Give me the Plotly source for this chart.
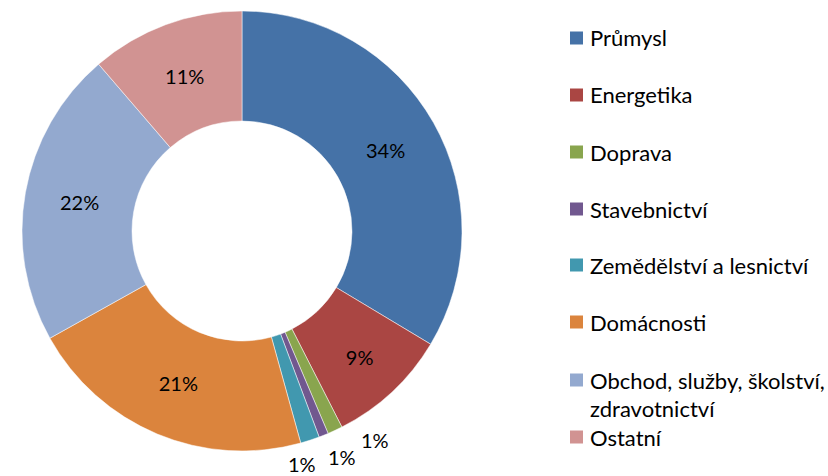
import plotly.graph_objects as go

# data
labels = ['Průmysl', 'Energetika', 'Doprava', 'Stavebnictví',
          'Zemědělství a lesnictví', 'Domácnosti',
          'Obchod, služby, školství, zdravotnictví', 'Ostatní']
shares = [33.6, 8.9, 1.1, 0.7, 1.4, 21.2, 21.8, 11.3]
legend_lines = [['Průmysl'], ['Energetika'], ['Doprava'], ['Stavebnictví'],
                ['Zemědělství a lesnictví'], ['Domácnosti'],
                ['Obchod, služby, školství,', 'zdravotnictví'], ['Ostatní']]

COLORS = ['#4572A7', '#AA4643', '#89A54E', '#71588F',
          '#4198AF', '#DB843D', '#93A9CF', '#D19392']

W, H = 828, 476
FONT = 'Lato, Open Sans, sans-serif'
total = sum(shares)

fig = go.Figure(go.Pie(
    labels=labels,
    values=shares,
    hole=0.5,
    sort=False,
    direction='clockwise',
    rotation=0,
    marker=dict(colors=COLORS, line=dict(color='white', width=0.5)),
    texttemplate=['%{percent:.0%}' if v >= 2 else '' for v in shares],
    textposition='inside',
    insidetextorientation='horizontal',
    textfont=dict(family=FONT, size=20, color='black'),
    showlegend=False,
    domain=dict(x=[22 / W, 462 / W], y=[1 - 451 / H, 1 - 11 / H]),
))

# labels of the thin slices sit outside the ring, stacked like in Excel
small_pos = [(375, 440), (342, 457), (302, 464)]
small = [v for v in shares if v < 2]
for v, (px, py) in zip(small, small_pos):
    fig.add_annotation(text=f'{round(100 * v / total)}%', xref='paper', yref='paper',
                       x=px / W, y=1 - py / H, showarrow=False,
                       xanchor='center', yanchor='middle',
                       font=dict(family=FONT, size=20, color='black'))

# legend drawn by hand to get Excel-like spacing
legend_y = [38, 95, 152, 209, 265, 322, 380, 437]
for lines, color, y in zip(legend_lines, COLORS, legend_y):
    fig.add_shape(type='rect', xref='paper', yref='paper',
                  x0=570 / W, x1=583 / W,
                  y0=1 - (y + 6.5) / H, y1=1 - (y - 6.5) / H,
                  fillcolor=color, line=dict(width=0))
    for i, line in enumerate(lines):
        fig.add_annotation(text=line, xref='paper', yref='paper',
                           x=588 / W, y=1 - (y + i * 28) / H,
                           xanchor='left', yanchor='middle', showarrow=False,
                           font=dict(family=FONT, size=22, color='black'))

fig.update_layout(
    width=W, height=H,
    margin=dict(l=0, r=0, t=0, b=0),
    paper_bgcolor='white',
    plot_bgcolor='white',
    font=dict(family=FONT),
)

# drop the browser's default 8px body margin so the figure sits at (0, 0)
fig.write_html('out.html', config={'displayModeBar': False},
               post_script="document.body.style.margin = '0';")
